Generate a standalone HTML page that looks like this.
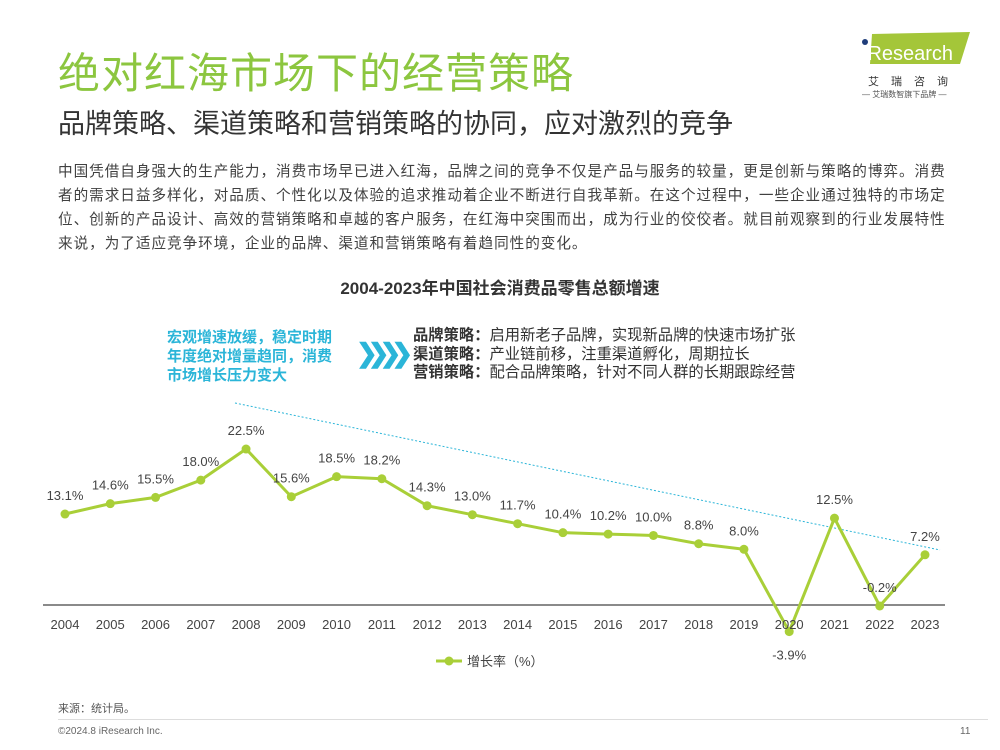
<!DOCTYPE html>
<html><head><meta charset="utf-8"><style>
body{margin:0;width:1000px;height:750px;background:#fff;font-family:"Liberation Sans","Noto Sans CJK SC",sans-serif;position:relative;overflow:hidden;color:#333}
.a{position:absolute;white-space:nowrap}
</style></head><body>
<div class="a" style="left:58px;top:40px;font-size:42px;color:#8cc63f;letter-spacing:1px">绝对红海市场下的经营策略</div>
<div class="a" style="left:58px;top:102px;font-size:27px;color:#333">品牌策略、渠道策略和营销策略的协同，应对激烈的竞争</div>
<div class="a" style="left:58px;top:160px;font-size:14.6px;letter-spacing:0.98px;line-height:24px;color:#404040;white-space:normal;width:895px">中国凭借自身强大的生产能力，消费市场早已进入红海，品牌之间的竞争不仅是产品与服务的较量，更是创新与策略的博弈。消费者的需求日益多样化，对品质、个性化以及体验的追求推动着企业不断进行自我革新。在这个过程中，一些企业通过独特的市场定位、创新的产品设计、高效的营销策略和卓越的客户服务，在红海中突围而出，成为行业的佼佼者。就目前观察到的行业发展特性来说，为了适应竞争环境，企业的品牌、渠道和营销策略有着趋同性的变化。</div>
<div class="a" style="left:860px;top:28px;width:110px;height:80px">
<svg width="110" height="40"><polygon points="12,6 110,4 100,36 10,36" fill="#a4c639"/><circle cx="5" cy="14" r="3" fill="#1f3d7a"/><text x="3" y="32" font-size="20" fill="#fff" font-family="Liberation Sans">iResearch</text></svg>
<div style="font-size:11px;letter-spacing:12px;color:#333;margin-left:8px">艾瑞咨询</div>
<div style="font-size:8px;color:#555;margin-left:2px">— 艾瑞数智旗下品牌 —</div>
</div>
<div class="a" style="left:0;width:1000px;text-align:center;top:274px;font-size:17px;font-weight:bold;color:#333">2004-2023年中国社会消费品零售总额增速</div>
<div class="a" style="left:167px;top:328px;font-size:15px;line-height:19px;font-weight:bold;color:#2bb5d8">宏观增速放缓，稳定时期<br>年度绝对增量趋同，消费<br>市场增长压力变大</div>
<div class="a" style="left:356px;top:338px;font-size:26px;font-weight:bold;color:#2bb5d8;letter-spacing:-10px">❯❯❯❯</div>
<div class="a" style="left:413px;top:327px;font-size:15.3px;line-height:18.5px;color:#333"><b>品牌策略：</b>启用新老子品牌，实现新品牌的快速市场扩张<br><b>渠道策略：</b>产业链前移，注重渠道孵化，周期拉长<br><b>营销策略：</b>配合品牌策略，针对不同人群的长期跟踪经营</div>
<svg class="a" style="left:0;top:0" width="1000" height="750" id="chart"></svg>
<div class="a" style="left:58px;top:700px;font-size:11px;color:#555">来源：统计局。</div>
<div class="a" style="left:58px;top:719px;width:930px;border-top:1px solid #ddd"></div>
<div class="a" style="left:58px;top:726px;font-size:10px;color:#666">©2024.8 iResearch Inc.</div>
<div class="a" style="left:960px;top:726px;font-size:10px;color:#666">11</div>
<script>
const years=["2004","2005","2006","2007","2008","2009","2010","2011","2012","2013","2014","2015","2016","2017","2018","2019","2020","2021","2022","2023"];
const growth=[13.1,14.6,15.5,18.0,22.5,15.6,18.5,18.2,14.3,13.0,11.7,10.4,10.2,10.0,8.8,8.0,-3.9,12.5,-0.2,7.2];
const svg=document.getElementById('chart');const ns='http://www.w3.org/2000/svg';
const x=i=>65+i*(860/(years.length-1));const y=v=>604.6-v*6.915;
function mk(t,a,p){const e=document.createElementNS(ns,t);for(const k in a)e.setAttribute(k,a[k]);(p||svg).appendChild(e);return e;}
const ax=mk('line',{x1:43,x2:945,y1:605,y2:605,stroke:'#444','stroke-width':1.2});


const tr=mk('line',{x1:235,y1:403,x2:940,y2:550,stroke:'#2bb5d8','stroke-width':1,'stroke-dasharray':'2,2'});


const pl=mk('polyline',{points:growth.map((v,i)=>x(i)+','+y(v)).join(' '),fill:'none',stroke:'#a9cf38','stroke-width':3});


growth.forEach((v,i)=>{
const c=mk('circle',{cx:x(i),cy:y(v),r:4.5,fill:'#a9cf38'});


const below=(v<-1);
const t=mk('text',{x:x(i),y:below?y(v)+28:y(v)-14,'text-anchor':'middle','font-size':13,fill:'#444'});
t.textContent=v.toFixed(1)+'%';


const yl=mk('text',{x:x(i),y:629,'text-anchor':'middle','font-size':13,fill:'#444'});
yl.textContent=years[i];


});
const lg=mk('line',{x1:436,x2:462,y1:661,y2:661,stroke:'#a9cf38','stroke-width':3});


const lc=mk('circle',{cx:449,cy:661,r:4.5,fill:'#a9cf38'});


const lt=mk('text',{x:467,y:666,'font-size':13,fill:'#444'});
lt.textContent='增长率（%）';


</script>
</body></html>
